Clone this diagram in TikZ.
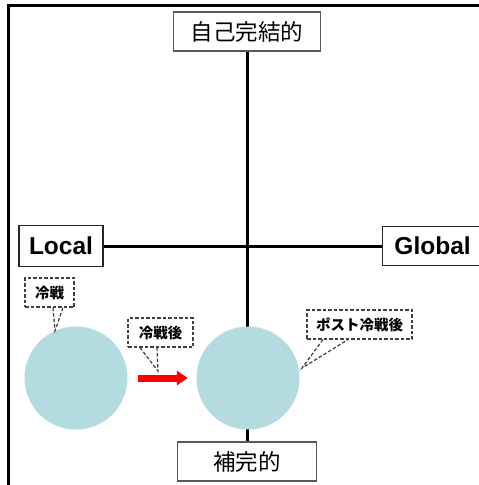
\documentclass[tikz,border=0pt]{standalone}
\usepackage{fontspec}
\setmainfont{Liberation Sans}
\newfontfamily\jp{Noto Sans CJK JP}
\usetikzlibrary{arrows.meta}
\definecolor{circ}{RGB}{180,220,224}
\begin{document}
\begin{tikzpicture}[x=1pt,y=-1pt,
  frame/.style={line width=2.5pt},
  axis/.style={line width=3pt},
  jplabel/.style={draw=black!65, line width=1.2pt, fill=white, inner sep=0pt,
    font=\jp\fontsize{22.5}{22.5}\selectfont},
  enlabel/.style={draw=black!85, line width=1.2pt, fill=white, inner sep=0pt,
    font=\bfseries\fontsize{24.5}{24.5}\selectfont},
  blob/.style={circle, fill=circ, minimum size=103pt, inner sep=0pt},
  callbox/.style={draw=black!75, dash pattern=on 3.5pt off 2pt, line width=1.2pt,
    fill=white, inner sep=0pt, minimum height=29pt,
    font=\jp\bfseries\fontsize{14.5}{14.5}\selectfont},
  ptr/.style={draw=black!75, dash pattern=on 3.5pt off 2pt, line width=1.2pt},
  move/.style={red, line width=7pt, -{Triangle[length=11pt,width=14pt]}}
]
\useasboundingbox (0,0) rectangle (479,485);
\fill[white] (0,0) rectangle (479,485);

% outer frame (top and left)
\coordinate (fbl) at (8.3,485);
\coordinate (ftl) at (8.3,5.3);
\coordinate (ftr) at (479,5.3);
\draw[frame] (fbl) -- (ftl) -- (ftr);

% axis labels
\node[jplabel, minimum width=147pt, minimum height=39pt] (top) at (247,31.5) {自己完結的};
\node[jplabel, minimum width=139pt, minimum height=39pt] (bot) at (247,461.5) {補完的};
\node[enlabel, minimum width=84pt, minimum height=41pt] (loc) at (61,246) {Local};
\node[enlabel, anchor=west, minimum width=100pt, minimum height=39pt] (glo) at (382,246) {Global};

% axes
\draw[axis] (top.south) -- (bot.north);
\draw[axis] (loc.east) -- (glo.west);

% circles
\node[blob] (lc) at (76,378) {};
\node[blob] (rc) at (248,378) {};

% red arrow
\draw[move, shorten <=10.5pt, shorten >=8.5pt] (lc) -- (rc);

% callouts
\node[callbox, minimum width=49pt] (c1) at (49.5,292.5) {冷戦};
\node[callbox, minimum width=65pt] (c2) at (160.5,332.5) {冷戦後};
\node[callbox, minimum width=105pt] (c3) at (359.5,324.5) {ポスト冷戦後};

\coordinate (t1) at (lc.114);
\coordinate (t2) at (158,371);
\coordinate (t3) at (302,368);

\draw[ptr] ([xshift=3.5pt]c1.south) -- (t1) -- ([xshift=13.5pt]c1.south);
\draw[ptr] ([xshift=-20.5pt]c2.south) -- (t2) -- ([xshift=-3.5pt]c2.south);
\draw[ptr] ([xshift=-36.5pt]c3.south) -- (t3) -- ([xshift=-11.5pt]c3.south);
\end{tikzpicture}
\end{document}
